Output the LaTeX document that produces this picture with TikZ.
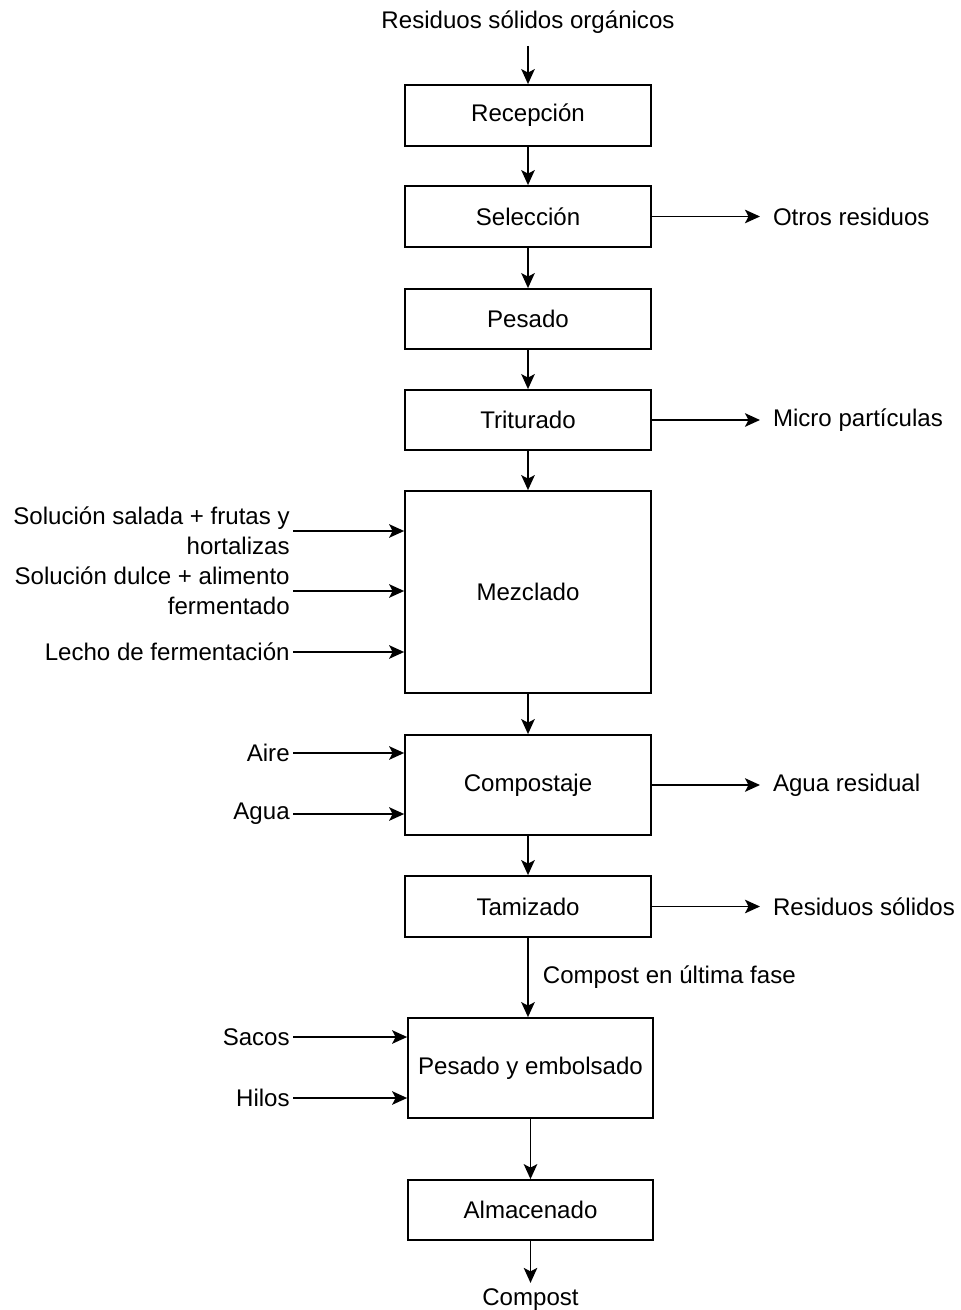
\documentclass[tikz,border=0pt]{standalone}
\usepackage{fontspec}
\setmainfont{Liberation Sans}
\usepackage{tikz}
\usetikzlibrary{arrows.meta,positioning,calc}

\tikzset{
  proceso/.style={draw, line width=1pt, minimum width=4.92cm, minimum height=1.22cm, inner sep=0pt},
  entrada/.style={anchor=east, align=right, inner sep=0.06cm},
  salida/.style={anchor=west, inner sep=0.08cm, outer sep=0.18cm},
  flecha/.style={line width=1pt, -{Stealth[length=0.3cm, width=0.27cm, inset=0.07cm]}}
}

\begin{document}
\begin{tikzpicture}[x=0.02cm, y=-0.02cm, font=\fontsize{13.7}{17}\selectfont]
\useasboundingbox (0,0) rectangle (960,1310);
% etapas del proceso
\node[proceso] (recepcion) at (528,115.5) {Recepción};
\node[proceso] (seleccion) at (528,216.5) {Selección};
\node[proceso, minimum height=1.2cm] (pesado) at (528,319) {Pesado};
\node[proceso, minimum height=1.2cm] (triturado) at (528,420) {Triturado};
\node[proceso, minimum height=4.04cm] (mezclado) at (528,592) {Mezclado};
\node[proceso, minimum height=2cm] (compostaje) at (528,785) {Compostaje};
\node[proceso] (tamizado) at (528,906.5) {Tamizado};
\node[proceso, minimum width=4.9cm, minimum height=2cm] (embolsado) at (530.5,1068) {Pesado y embolsado};
\node[proceso, minimum width=4.9cm, minimum height=1.2cm] (almacenado) at (530.5,1210) {Almacenado};
% entrada y salida principal
\node[inner sep=0.1cm, outer sep=0.15cm] (residuos) at (528,22) {Residuos sólidos orgánicos};
\node (compost) at (530.5,1300) {Compost};
% flujo principal
\draw[flecha] (residuos.south) -- (recepcion.north);
\draw[flecha] (recepcion) -- (seleccion);
\draw[flecha] (seleccion) -- (pesado);
\draw[flecha] (pesado) -- (triturado);
\draw[flecha] (triturado) -- (mezclado);
\draw[flecha] (mezclado) -- (compostaje);
\draw[flecha] (compostaje) -- (tamizado);
\draw[flecha] (tamizado.south) -- node[right=0.2cm, inner sep=0.08cm] {Compost en última fase} (tamizado.south |- embolsado.north);
\draw[flecha] (embolsado) -- (almacenado);
\draw[flecha] (almacenado.south) -- (compost.north);
% salidas laterales
\node[salida] (otros) at (760,216.5) {Otros residuos};
\node[salida] (micro) at (760,420) {Micro partículas};
\node[salida] (aguares) at (760,785) {Agua residual};
\node[salida] (solidos) at (760,906.5) {Residuos sólidos};
\draw[flecha] (seleccion.east) -- (otros.west);
\draw[flecha] (triturado.east) -- (micro.west);
\draw[flecha] (compostaje.east) -- (aguares.west);
\draw[flecha] (tamizado.east) -- (solidos.west);
% entradas laterales
\node[entrada] (salada) at (293,531) {Solución salada + frutas y\\hortalizas};
\node[entrada] (dulce) at (293,591) {Solución dulce + alimento\\fermentado};
\node[entrada] (lecho) at (293,652) {Lecho de fermentación};
\node[entrada] (aire) at (293,753) {Aire};
\node[entrada] (agua) at (293,814) {Agua};
\node[entrada] (sacos) at (293,1037) {Sacos};
\node[entrada] (hilos) at (293,1098) {Hilos};
\draw[flecha] (salada.east) -- (salada.east -| mezclado.west);
\draw[flecha] (dulce.east) -- (dulce.east -| mezclado.west);
\draw[flecha] (lecho.east) -- (lecho.east -| mezclado.west);
\draw[flecha] (aire.east) -- (aire.east -| compostaje.west);
\draw[flecha] (agua.east) -- (agua.east -| compostaje.west);
\draw[flecha] (sacos.east) -- (sacos.east -| embolsado.west);
\draw[flecha] (hilos.east) -- (hilos.east -| embolsado.west);
\end{tikzpicture}
\end{document}
